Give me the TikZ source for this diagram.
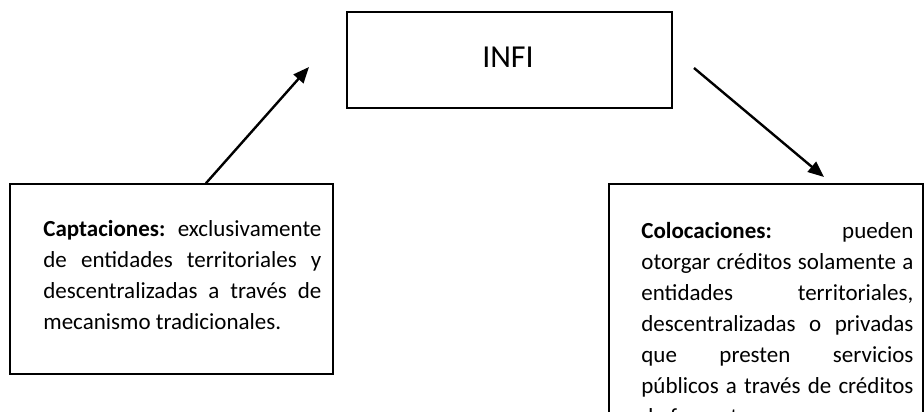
\documentclass[tikz,border=0pt]{standalone}
\usepackage{fontspec}
\setmainfont{Carlito}
\usepackage{tikz}
\usetikzlibrary{calc,positioning,arrows.meta}

\begin{document}
\begin{tikzpicture}[
	%	style def
    x=1pt, y=-1pt,
    box line/.style={draw, line width=1.6pt, inner sep=0pt},
    important line/.style={line width=2.4pt, -{Triangle[length=16pt,width=13pt]}},
    body text/.style={anchor=north west, inner sep=0pt, align=justify,
        font=\fontsize{23}{31}\selectfont},
    every node/.style={color=black}
    ]
    \useasboundingbox (0,0) rectangle (924,412);
    \clip (0,0) rectangle (924,412);

	% the three boxes
	\node[box line, minimum width=325pt, minimum height=96pt] (infi) at (509.5,60) {};
	\node[font=\fontsize{32}{38}\selectfont, inner sep=0pt] (infi label) at (508,57) {INFI};
	\node[box line, minimum width=323pt, minimum height=190pt] (captaciones) at (171.5,279) {};
	\node[box line, minimum width=314pt, minimum height=266pt] (colocaciones) at (766,317) {};

	% texts inside the boxes
	\node[body text, text width=278pt] (capt text) at ([shift={(34,37)}]captaciones.north west)
	    {\textbf{Captaciones:} exclusivamente\linebreak de entidades territoriales y\linebreak
	     descentralizadas a través de\linebreak mecanismo tradicionales.};
	\node[body text, text width=272pt] (coloc text) at ([shift={(33,39)}]colocaciones.north west)
	    {\textbf{Colocaciones:} pueden\linebreak otorgar créditos solamente a\linebreak
	     entidades territoriales,\linebreak descentralizadas o privadas\linebreak
	     que presten servicios\linebreak públicos a través de créditos\linebreak de fomento};

	% arrows
	\coordinate (capt top) at ([xshift=34.5pt]captaciones.north);
	\coordinate (up tip) at (309,67);
	\coordinate (down start) at (694,68);
	\coordinate (down tip) at (824,177);
	\draw[important line] (capt top) -- (up tip);
	\draw[important line] (down start) -- (down tip);
\end{tikzpicture}
\end{document}
